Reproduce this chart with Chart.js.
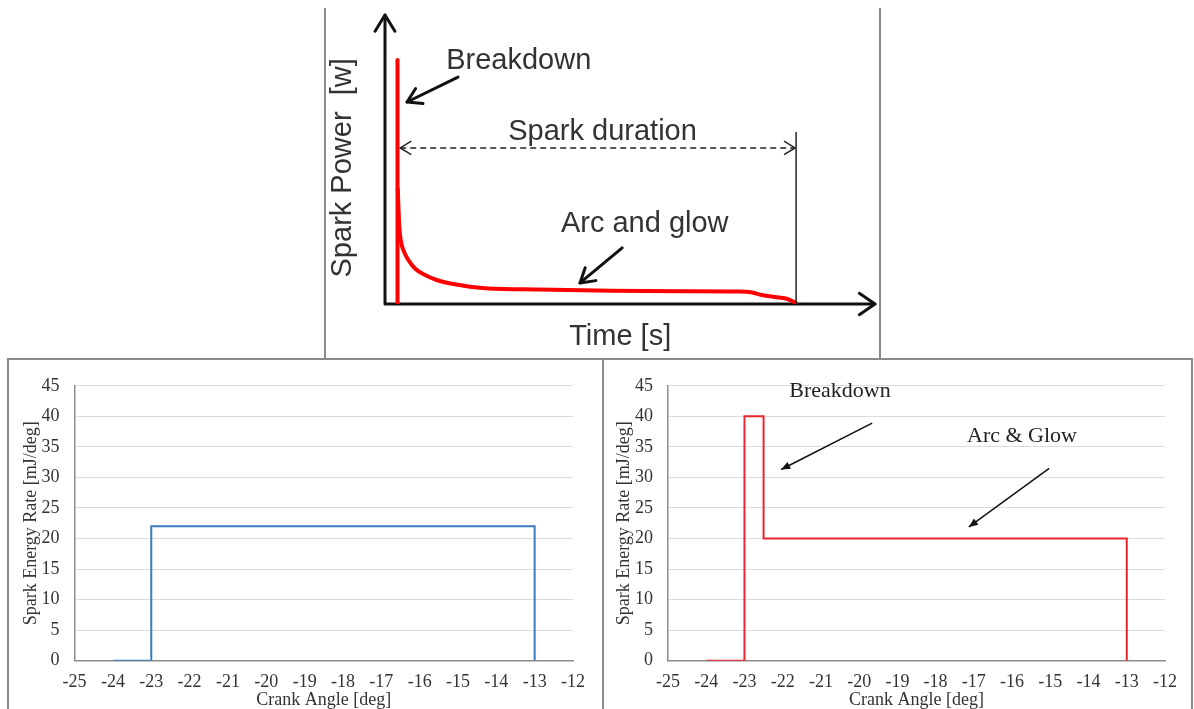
<!DOCTYPE html>
<html>
<head>
<meta charset="utf-8">
<script src="https://cdn.jsdelivr.net/npm/chart.js@4/dist/chart.umd.min.js"></script>
<style>
  html, body { margin: 0; padding: 0; background: #fff; overflow: hidden; }
  body { width: 1194px; height: 709px; position: relative; }
  canvas { position: absolute; }
  .frame { position: absolute; box-sizing: border-box; pointer-events: none; }
</style>
</head>
<body>
<canvas id="schematic" width="600" height="358" style="left:300px;top:0"></canvas>
<canvas id="uniform" width="590" height="349" style="left:10px;top:360px"></canvas>
<canvas id="staged" width="587" height="349" style="left:605px;top:360px"></canvas>
<div class="frame" style="left:324px;top:8px;width:557px;height:352px;border-left:2px solid #8a8a8a;border-right:2px solid #8a8a8a;"></div>
<div class="frame" style="left:7px;top:358px;width:597px;height:360px;border:2px solid #8a8a8a;"></div>
<div class="frame" style="left:602px;top:358px;width:591px;height:360px;border:2px solid #8a8a8a;"></div>
<script>
// Schematic spark power trace (arbitrary units of time and power)
const spikeTime  = [2.55, 2.55];
const spikeLevel = [0, 84.4];
const decayTime  = [2.6, 2.92, 3.20, 3.73, 4.76, 6.12, 8.16, 10.55, 13.94, 17.35, 21.08, 31.2, 46.1, 60.2, 72.0, 74.9, 76.9, 79.6, 81.8, 83.1, 83.9];
const decayLevel = [40.0, 26.7, 22.1, 18.7, 15.2, 12.3, 10.0, 8.3, 6.9, 6.0, 5.4, 5.0, 4.6, 4.4, 4.3, 4.0, 3.1, 2.4, 1.9, 1.0, 0.3];
const sparkEnd = 83.9;

// Crank-angle axes
const crankTicks = [-25, -24, -23, -22, -21, -20, -19, -18, -17, -16, -15, -14, -13, -12];
const rateTicks  = [0, 5, 10, 15, 20, 25, 30, 35, 40, 45];

// Constant-rate spark energy model
const uniformAngle = [-24, -23, -23, -13, -13];
const uniformRate  = [0, 0, 22, 22, 0];

// Two-stage model: breakdown then arc & glow
const stagedAngle = [-24, -23, -23, -22.5, -22.5, -13, -13];
const stagedRate  = [0, 0, 40, 40, 20, 20, 0];

const stagedNotes = [
  { text: 'Breakdown', x: -20.5, y: 43.2 },
  { text: 'Arc & Glow', x: -15.74, y: 35.8 }
];
const stagedArrows = [
  { from: [-19.66, 38.9], to: [-22.04, 31.3] },
  { from: [-15.03, 31.5], to: [-17.13, 21.9] }
];

const schematicNotes = [
  { text: 'Breakdown', t: 27.3, p: 81.3 },
  { text: 'Spark duration', t: 44.4, p: 56.7 },
  { text: 'Arc and glow', t: 53.0, p: 24.9 },
  { text: 'Time [s]', t: 48.0, p: -14.2 }
];

function toPoints(xs, ys) { return xs.map((v, i) => ({ x: v, y: ys[i] })); }

function openHead(ctx, x1, y1, x2, y2, len, ang) {
  const a = Math.atan2(y2 - y1, x2 - x1);
  ctx.beginPath();
  ctx.moveTo(x2 - len * Math.cos(a - ang), y2 - len * Math.sin(a - ang));
  ctx.lineTo(x2, y2);
  ctx.lineTo(x2 - len * Math.cos(a + ang), y2 - len * Math.sin(a + ang));
  ctx.stroke();
}
function filledHead(ctx, x1, y1, x2, y2, len, hw) {
  const a = Math.atan2(y2 - y1, x2 - x1);
  const bx = x2 - len * Math.cos(a), by = y2 - len * Math.sin(a);
  ctx.beginPath();
  ctx.moveTo(x2, y2);
  ctx.lineTo(bx + hw * Math.sin(a), by - hw * Math.cos(a));
  ctx.lineTo(bx - hw * Math.sin(a), by + hw * Math.cos(a));
  ctx.closePath();
  ctx.fill();
}

Chart.defaults.animation = false;
Chart.defaults.responsive = false;
Chart.defaults.devicePixelRatio = 1;
Chart.defaults.plugins.legend.display = false;
Chart.defaults.plugins.tooltip.enabled = false;

// ---- Schematic: spark power vs time ----
const schematicAxes = {
  id: 'schematicAxes',
  beforeDatasetsDraw(chart) {
    const { ctx, scales: { x, y } } = chart;
    const X = v => x.getPixelForValue(v), Y = v => y.getPixelForValue(v);
    ctx.save();
    ctx.strokeStyle = '#111';
    ctx.lineWidth = 3;
    ctx.lineCap = 'round';
    ctx.lineJoin = 'round';
    ctx.beginPath();
    ctx.moveTo(X(0), Y(0)); ctx.lineTo(X(0), Y(100));
    ctx.moveTo(X(0), Y(0)); ctx.lineTo(X(100), Y(0));
    ctx.stroke();
    openHead(ctx, X(0), Y(0), X(0), Y(100), 19, 0.55);
    openHead(ctx, X(0), Y(0), X(100), Y(0), 19, 0.6);
    ctx.restore();
  },
  afterDatasetsDraw(chart) {
    const { ctx, scales: { x, y } } = chart;
    const X = v => x.getPixelForValue(v), Y = v => y.getPixelForValue(v);
    ctx.save();
    // end-of-spark marker and duration arrow
    ctx.strokeStyle = '#222';
    ctx.lineWidth = 1.5;
    ctx.beginPath();
    ctx.moveTo(X(sparkEnd), Y(0)); ctx.lineTo(X(sparkEnd), Y(59.5));
    ctx.stroke();
    const dy = Y(54);
    ctx.setLineDash([6, 4]);
    ctx.beginPath();
    ctx.moveTo(X(3.1), dy); ctx.lineTo(X(sparkEnd) - 1, dy);
    ctx.stroke();
    ctx.setLineDash([]);
    openHead(ctx, X(sparkEnd), dy, X(3.1), dy, 13, 0.55);
    openHead(ctx, X(3.1), dy, X(sparkEnd) - 1, dy, 13, 0.55);
    // pointer arrows
    ctx.strokeStyle = '#111';
    ctx.lineWidth = 3;
    ctx.lineCap = 'round';
    ctx.lineJoin = 'round';
    const ptrs = [[14.9, 78.5, 4.5, 69.9], [48.4, 19.4, 39.8, 7.3]];
    ptrs.forEach(([t1, p1, t2, p2]) => {
      ctx.beginPath(); ctx.moveTo(X(t1), Y(p1)); ctx.lineTo(X(t2), Y(p2)); ctx.stroke();
      openHead(ctx, X(t1), Y(p1), X(t2), Y(p2), 16, 0.55);
    });
    // labels
    ctx.fillStyle = '#333';
    ctx.font = '29px "Liberation Sans", Arial, sans-serif';
    ctx.textAlign = 'center';
    ctx.textBaseline = 'alphabetic';
    schematicNotes.forEach(n => ctx.fillText(n.text, X(n.t), Y(n.p)));
    ctx.translate(X(-8.6), Y(47.1));
    ctx.rotate(-Math.PI / 2);
    ctx.textBaseline = 'middle';
    ctx.fillText('Spark Power  [w]', 0, 0);
    ctx.restore();
  }
};

const traceStyle = {
  showLine: true,
  borderColor: '#ff0000',
  borderWidth: 4,
  pointRadius: 0,
  borderJoinStyle: 'round',
  borderCapStyle: 'round'
};

new Chart(document.getElementById('schematic'), {
  type: 'scatter',
  data: {
    datasets: [
      Object.assign({ data: toPoints(spikeTime, spikeLevel), tension: 0 }, traceStyle),
      Object.assign({ data: toPoints(decayTime, decayLevel), cubicInterpolationMode: 'monotone' }, traceStyle)
    ]
  },
  options: {
    layout: { padding: { left: 85, right: 25, top: 15, bottom: 54 } },
    scales: {
      x: { type: 'linear', min: 0, max: 100, display: false },
      y: { type: 'linear', min: 0, max: 100, display: false }
    }
  },
  plugins: [schematicAxes]
});

// ---- Crank-angle energy-rate panels ----
const serif = '"Liberation Serif", "Times New Roman", serif';

function rateOptions(padLeft, yWidth) {
  return {
    layout: { padding: { left: padLeft, right: 27, top: 16.7, bottom: 0 } },
    scales: {
      x: {
        type: 'linear',
        min: crankTicks[0],
        max: crankTicks[crankTicks.length - 1],
        afterBuildTicks: s => { s.ticks = crankTicks.map(v => ({ value: v })); },
        afterFit: s => { s.height = 48.3; },
        grid: { display: false, drawTicks: false },
        border: { display: true, color: '#8c8c8c', width: 1.5 },
        ticks: { autoSkip: false, maxRotation: 0, padding: 11, color: '#333', font: { family: serif, size: 18 } },
        title: { display: true, text: 'Crank Angle [deg]', color: '#333', padding: { top: 0, bottom: -2 }, font: { family: serif, size: 18 } }
      },
      y: {
        type: 'linear',
        min: rateTicks[0],
        max: rateTicks[rateTicks.length - 1],
        afterBuildTicks: s => { s.ticks = rateTicks.map(v => ({ value: v })); },
        afterFit: s => { s.width = yWidth; },
        grid: { drawTicks: false, lineWidth: 1, color: c => (c.tick && c.tick.value === 0 ? 'rgba(0,0,0,0)' : '#dcdcdc') },
        border: { display: true, color: '#8c8c8c', width: 1.5 },
        ticks: { padding: 15, color: '#333', font: { family: serif, size: 18 } },
        title: { display: true, text: 'Spark Energy Rate [mJ/deg]', color: '#333', padding: 0, font: { family: serif, size: 18 } }
      }
    }
  };
}

new Chart(document.getElementById('uniform'), {
  type: 'scatter',
  data: {
    datasets: [{
      data: toPoints(uniformAngle, uniformRate),
      showLine: true,
      borderColor: '#3a7cbf',
      borderWidth: 2,
      pointRadius: 0,
      tension: 0
    }]
  },
  options: rateOptions(10, 54.6)
});

const stagedDecor = {
  id: 'stagedDecor',
  afterDatasetsDraw(chart) {
    const { ctx, scales: { x, y } } = chart;
    const X = v => x.getPixelForValue(v), Y = v => y.getPixelForValue(v);
    ctx.save();
    ctx.strokeStyle = '#111';
    ctx.fillStyle = '#111';
    ctx.lineWidth = 1.5;
    stagedArrows.forEach(a => {
      const x1 = X(a.from[0]), y1 = Y(a.from[1]), x2 = X(a.to[0]), y2 = Y(a.to[1]);
      ctx.beginPath(); ctx.moveTo(x1, y1); ctx.lineTo(x2, y2); ctx.stroke();
      filledHead(ctx, x1, y1, x2, y2, 9, 3.8);
    });
    ctx.fillStyle = '#222';
    ctx.font = '22px ' + serif;
    ctx.textAlign = 'center';
    ctx.textBaseline = 'alphabetic';
    stagedNotes.forEach(n => ctx.fillText(n.text, X(n.x), Y(n.y)));
    ctx.restore();
  }
};

new Chart(document.getElementById('staged'), {
  type: 'scatter',
  data: {
    datasets: [{
      data: toPoints(stagedAngle, stagedRate),
      showLine: true,
      borderColor: '#e8262e',
      borderWidth: 2,
      pointRadius: 0,
      tension: 0
    }]
  },
  options: rateOptions(8, 55),
  plugins: [stagedDecor]
});
</script>
</body>
</html>
